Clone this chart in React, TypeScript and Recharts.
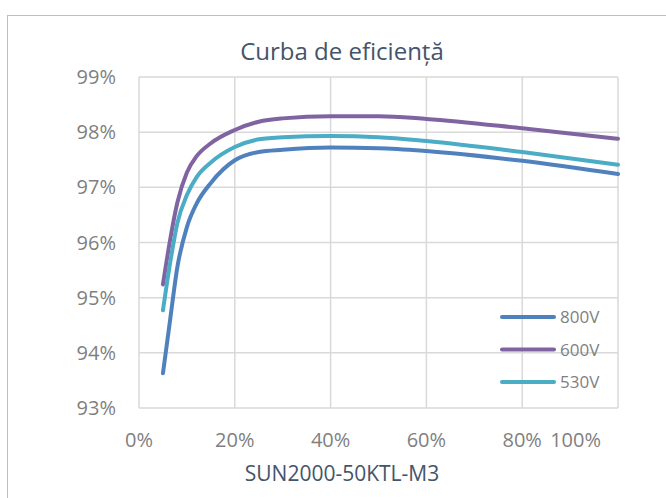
import { LineChart, Line, XAxis, YAxis, CartesianGrid } from "recharts";

// load (% of rated power) and efficiency (%)
const loadPct = [5, 6.5, 8, 10, 12, 15, 20, 25, 30, 40, 50, 60, 80, 100];
const eff800 = [93.63, 94.6, 95.55, 96.28, 96.7, 97.08, 97.49, 97.64, 97.68, 97.72, 97.71, 97.66, 97.48, 97.24];
const eff600 = [95.24, 96.05, 96.72, 97.27, 97.56, 97.8, 98.04, 98.19, 98.25, 98.29, 98.29, 98.24, 98.07, 97.88];
const eff530 = [94.77, 95.63, 96.35, 96.86, 97.18, 97.45, 97.73, 97.87, 97.91, 97.93, 97.91, 97.84, 97.64, 97.41];

const xTicks = [0, 20, 40, 60, 80, 100];
const yTicks = [93, 94, 95, 96, 97, 98, 99];

const series = [
  { key: "v800", name: "800V", color: "#4F81BD", values: eff800 },
  { key: "v600", name: "600V", color: "#8064A2", values: eff600 },
  { key: "v530", name: "530V", color: "#4BACC6", values: eff530 },
];

const data = loadPct.map((x, i) => {
  const row: Record<string, number> = { load: x };
  series.forEach((s) => {
    row[s.key] = s.values[i];
  });
  return row;
});

const FONT = '"Open Sans", sans-serif';
const TICK_COLOR = "#7f7f7f";
const TITLE_COLOR = "#44546A";

function XTick(props: any) {
  const { x, y, payload } = props;
  const last = payload.value === 100;
  return (
    <text
      x={last ? x - 17 : x}
      y={y}
      dy="0.71em"
      textAnchor={last ? "end" : "middle"}
      fill={TICK_COLOR}
      fontSize={20}
      fontFamily={FONT}
    >
      {`${payload.value}%`}
    </text>
  );
}

export default function App() {
  return (
    <div
      style={{
        position: "absolute",
        left: 0,
        top: 0,
        width: 666,
        height: 498,
        overflow: "hidden",
        background: "#fff",
        fontFamily: FONT,
      }}
    >
      <div
        style={{
          position: "absolute",
          left: 7,
          top: 15,
          width: 700,
          height: 520,
          borderLeft: "1px solid #bfbfbf",
          borderTop: "1px solid #bfbfbf",
        }}
      />
      <div style={{ position: "absolute", left: 0, top: 0 }}>
        <LineChart
          width={666}
          height={498}
          data={data}
          margin={{ top: 77, right: 48, bottom: 60, left: 0 }}
        >
          <CartesianGrid stroke="#d9d9d9" strokeWidth={1.5} />
          <XAxis
            dataKey="load"
            type="number"
            domain={[0, 100]}
            ticks={xTicks}
            height={30}
            axisLine={false}
            tickLine={false}
            tickSize={0}
            tickMargin={25}
            tick={<XTick />}
          />
          <YAxis
            type="number"
            domain={[93, 99]}
            ticks={yTicks}
            width={139}
            axisLine={false}
            tickLine={false}
            tickSize={0}
            tickMargin={23}
            tick={{ fill: TICK_COLOR, fontSize: 20, fontFamily: FONT }}
            tickFormatter={(v: number) => `${v}%`}
          />
          {series.map((s) => (
            <Line
              key={s.key}
              type="monotone"
              dataKey={s.key}
              name={s.name}
              stroke={s.color}
              strokeWidth={4}
              strokeLinecap="round"
              dot={false}
              activeDot={false}
              isAnimationActive={false}
            />
          ))}
        </LineChart>
      </div>
      <svg
        width={666}
        height={498}
        style={{ position: "absolute", left: 0, top: 0, pointerEvents: "none" }}
      >
        <text x={342} y={60} textAnchor="middle" fontSize={24} fill={TITLE_COLOR} fontFamily={FONT}>
          Curba de eficiență
        </text>
        <text x={342} y={481} textAnchor="middle" fontSize={21} fill={TITLE_COLOR} fontFamily={FONT}>
          SUN2000-50KTL-M3
        </text>
        {series.map((s, i) => (
          <g key={s.key}>
            <line
              x1={502}
              x2={554}
              y1={317 + i * 32.5}
              y2={317 + i * 32.5}
              stroke={s.color}
              strokeWidth={4}
              strokeLinecap="round"
            />
            <text x={560} y={323 + i * 32.5} fontSize={17} fill={TICK_COLOR} fontFamily={FONT}>
              {s.name}
            </text>
          </g>
        ))}
      </svg>
    </div>
  );
}
